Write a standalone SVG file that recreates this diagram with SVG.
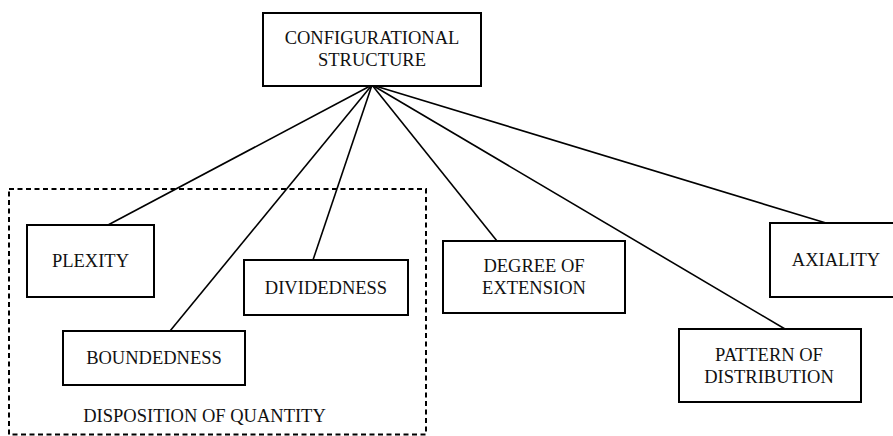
<svg xmlns="http://www.w3.org/2000/svg" width="893" height="436" viewBox="0 0 893 436">
<style>
.box{fill:#fff;stroke:#000;stroke-width:2}
.t{font-family:"Liberation Serif","Times New Roman",serif;font-size:18.5px;fill:#111;text-anchor:middle}
.c{stroke:#000;stroke-width:1.6;fill:none}
</style>
<rect width="893" height="436" fill="#fff"/>
<g id="group-disposition">
<rect x="9" y="189" width="417" height="245.5" fill="none" stroke="#000" stroke-width="2" stroke-dasharray="5,3.5"/>
<text class="t" x="204.5" y="422">DISPOSITION OF QUANTITY</text>
</g>
<g id="connectors">
<line class="c" x1="372" y1="85" x2="108" y2="225"/>
<line class="c" x1="372" y1="85" x2="170" y2="331"/>
<line class="c" x1="372" y1="85" x2="313" y2="260"/>
<line class="c" x1="372" y1="85" x2="497" y2="241"/>
<line class="c" x1="372" y1="85" x2="785" y2="329"/>
<line class="c" x1="372" y1="85" x2="826" y2="223"/>
</g>
<g id="configurational-structure">
<rect class="box" x="263" y="13" width="218" height="73"/>
<text class="t" x="372" y="44">CONFIGURATIONAL</text>
<text class="t" x="372" y="66">STRUCTURE</text>
</g>
<g id="plexity">
<rect class="box" x="27" y="225" width="127" height="72"/>
<text class="t" x="90.5" y="267">PLEXITY</text>
</g>
<g id="dividedness">
<rect class="box" x="244" y="260" width="164" height="55"/>
<text class="t" x="326" y="293.5">DIVIDEDNESS</text>
</g>
<g id="boundedness">
<rect class="box" x="63" y="331" width="182" height="54"/>
<text class="t" x="154" y="364">BOUNDEDNESS</text>
</g>
<g id="degree-of-extension">
<rect class="box" x="443" y="241" width="182" height="72"/>
<text class="t" x="534" y="272">DEGREE OF</text>
<text class="t" x="534" y="294">EXTENSION</text>
</g>
<g id="pattern-of-distribution">
<rect class="box" x="679" y="329" width="182" height="73"/>
<text class="t" x="769" y="360.5">PATTERN OF</text>
<text class="t" x="769" y="382.5">DISTRIBUTION</text>
</g>
<g id="axiality">
<rect class="box" x="770" y="223" width="134" height="74"/>
<text class="t" x="836" y="266">AXIALITY</text>
</g>
</svg>
